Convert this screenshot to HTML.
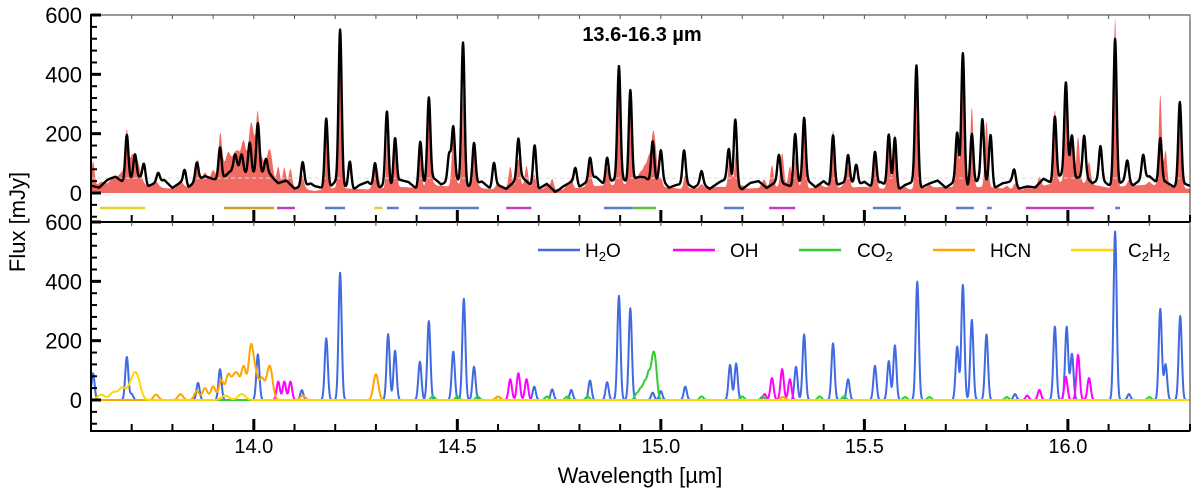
<!DOCTYPE html>
<html><head><meta charset="utf-8">
<style>
html,body{margin:0;padding:0;background:#fff;}
svg{display:block;font-family:"Liberation Sans","DejaVu Sans",sans-serif;}
</style></head>
<body>
<svg id="chart" width="1200" height="502" viewBox="0 0 1200 502" xmlns="http://www.w3.org/2000/svg">
<rect x="0" y="0" width="1200" height="502" fill="#fff"/>
<g id="topPanel"></g>
<g id="strip"></g>
<g id="botPanel"></g>
<g id="axes"></g>
<text x="642" y="41" text-anchor="middle" font-size="20" font-weight="bold">13.6-16.3 µm</text>
<text x="0" y="0" transform="translate(25,222) rotate(-90)" text-anchor="middle" font-size="22">Flux [mJy]</text>
<text x="640" y="483" text-anchor="middle" font-size="22">Wavelength [µm]</text>
<g id="legend"></g>
</svg>
<script>
// ---- data ----
const baselineStart = 13.6;
const baselineStep = 0.05;
const obsBaseline = [20,35,45,30,20,35,45,60,70,40,25,10,25,20,15,30,25,35,30,25,15,35,20,15,25,35,40,45,30,20,25,30,20,25,30,20,30,25,30,20,15,25,30,25,30,20,15,40,60,45,25,35,40,30,20];
const rippleStep = 0.02;
const obsRipple = [5,-8,12,18,-5,3,15,-10,8,20,-3,10,-12,6,16,2,-8,14,22,0,-6,9,17,-4,11,-10,5,19,7,-9,13,3,-14,8,21,-2,6,-7,15,10,-11,4,18,-5,9,14,-8,2,16,-3,12,-9,7,20,1,-6,13,-12,5,17,-4,10,22,-7,3,15,-10,8,11,-2,19,-8,6,14,-5,9,-13,4,18,0,-7,12,16,-9,7,2,-4,13,21,-6,10,-11,5,17,-3,8,-8,15,3,-10,12,19,-5,6,14,-12,9,1,-7,16,4,-9,11,20,-2,7,-6,13,-11,5,18,-4,10,-8,15,2,-5,12,-10,8,17,-3,6,-7,11,4,-9,14,0,6,-4];
const obsLines = [[13.688,155],[13.708,80],[13.73,60],[13.765,30],[13.83,50],[13.86,60],[13.917,110],[13.954,50],[13.97,55],[13.99,105],[14.01,170],[14.03,50],[14.12,80],[14.178,240],[14.212,520],[14.236,95],[14.298,85],[14.327,250],[14.347,155],[14.409,150],[14.43,280],[14.48,90],[14.49,180],[14.514,480],[14.541,140],[14.59,80],[14.65,135],[14.69,140],[14.79,55],[14.826,75],[14.868,85],[14.897,375],[14.925,310],[14.98,140],[15.0,95],[15.057,110],[15.1,40],[15.167,110],[15.183,225],[15.29,95],[15.33,170],[15.352,215],[15.423,175],[15.46,85],[15.48,70],[15.526,115],[15.56,175],[15.575,175],[15.628,400],[15.728,170],[15.742,445],[15.764,175],[15.79,210],[15.81,170],[15.868,50],[15.968,215],[15.995,300],[16.01,130],[16.04,135],[16.08,110],[16.116,495],[16.146,70],[16.185,80],[16.227,150],[16.275,275]];
const h2oLines = [[13.605,90],[13.688,145],[13.70,20],[13.863,58],[13.917,104],[14.01,154],[14.118,33],[14.178,208],[14.212,429],[14.33,222],[14.347,166],[14.408,129],[14.43,266],[14.49,163],[14.516,341],[14.541,112],[14.689,45],[14.733,36],[14.78,34],[14.826,66],[14.868,60],[14.897,351],[14.925,309],[14.98,25],[15.0,30],[15.06,45],[15.17,118],[15.185,123],[15.332,112],[15.352,221],[15.423,191],[15.46,70],[15.526,115],[15.56,131],[15.575,184],[15.63,399],[15.728,180],[15.742,388],[15.764,270],[15.8,221],[15.87,20],[15.968,247],[15.997,247],[16.01,155],[16.116,568],[16.15,20],[16.227,307],[16.24,120],[16.276,283]];
const ohLines = [[14.06,62],[14.075,62],[14.09,62],[14.63,70],[14.65,90],[14.67,70],[15.255,20],[15.273,74],[15.298,104],[15.317,70],[15.9,15],[15.93,34],[15.995,78],[16.025,152],[16.052,74]];
const co2Lines = [[14.94,20],[14.95,35],[14.96,55],[14.97,85],[14.98,118],[14.987,100],[14.44,12],[14.5,12],[14.55,12],[14.6,12],[14.72,12],[14.77,12],[14.82,12],[15.1,12],[15.2,12],[15.25,12],[15.39,12],[15.45,12],[15.6,10],[15.66,10],[15.85,10],[16.2,10]];
const hcnLines = [[13.76,18],[13.82,20],[13.86,30],[13.88,40],[13.90,45],[13.92,65],[13.937,81],[13.95,60],[13.96,70],[13.975,110],[13.993,176],[14.005,80],[14.02,70],[14.035,65],[14.042,71],[14.12,15],[14.3,87],[14.6,12],[15.3,10]];
const c2h2Lines = [[13.625,18],[13.655,25],[13.677,40],[13.70,50],[13.713,70],[13.93,15],[13.97,20]];
const markerRanges = [[13.622,13.733,"C2H2"],[13.927,14.05,"HCN"],[14.057,14.101,"OH"],[14.175,14.224,"H2O"],[14.296,14.316,"C2H2"],[14.327,14.356,"H2O"],[14.406,14.553,"H2O"],[14.62,14.682,"OH"],[14.86,14.932,"H2O"],[14.932,14.988,"CO2"],[15.155,15.204,"H2O"],[15.266,15.33,"OH"],[15.521,15.59,"H2O"],[15.725,15.769,"H2O"],[15.801,15.813,"H2O"],[15.897,16.064,"OH"],[16.116,16.128,"H2O"]];
const xTicksMajor = [14.0,14.5,15.0,15.5,16.0];
const xTickLabels = ["14.0","14.5","15.0","15.5","16.0"];
const yTicks = [0,200,400,600];
const yTickLabels = ["0","200","400","600"];

// ---- scales ----
const W0=13.6, W1=16.3, X0=91, X1=1190;
const xs = w => X0 + (w-W0)/(W1-W0)*(X1-X0);
const yTop = v => 193 - v*(178/600);
const yBot = v => 400 - v*(178/600);
const NS="http://www.w3.org/2000/svg";
function mk(tag, attrs, parent){const e=document.createElementNS(NS,tag);for(const k in attrs)e.setAttribute(k,attrs[k]);parent.appendChild(e);return e;}

const colors={H2O:"#4169e1",OH:"#ff00ff",CO2:"#32cd32",HCN:"#ffa500",C2H2:"#ffd700"};
const stripColors={H2O:"#5a7fc4",OH:"#c43cc4",CO2:"#5ec040",HCN:"#c8a030",C2H2:"#e8d030"};
const sig={H2O:0.0038,OH:0.004,CO2:0.0045,HCN:0.006,C2H2:0.009,OBS:0.0038};

function gsum(lines,s,w){let t=0;for(const [c,a] of lines){const d=(w-c)/s;if(d*d<30)t+=a*Math.exp(-0.5*d*d);}return t;}
function interp(arr,start,stp,w){const f=(w-start)/stp;const i=Math.max(0,Math.min(arr.length-2,Math.floor(f)));const r=Math.min(1,Math.max(0,f-i));return arr[i]*(1-r)+arr[i+1]*r;}
const baseAt = w => interp(obsBaseline,baselineStart,baselineStep,w);
const rippleAt = w => interp(obsRipple,baselineStart,rippleStep,w);

const step=0.001, N=Math.round((W1-W0)/step);
const ws=[];for(let i=0;i<=N;i++)ws.push(W0+i*step);

// ---- top panel ----
const topG=document.getElementById('topPanel');
const spec={H2O:h2oLines,OH:ohLines,CO2:co2Lines,HCN:hcnLines,C2H2:c2h2Lines};
const model=ws.map(w=>{let t=baseAt(w)*0.7;for(const k in spec)t+=gsum(spec[k],sig[k],w);return t;});
let dF="M"+xs(W0)+","+yTop(0);
ws.forEach((w,i)=>{dF+=" L"+xs(w).toFixed(2)+","+yTop(Math.min(model[i],610)).toFixed(2);});
dF+=" L"+xs(W1)+","+yTop(0)+" Z";
const fill=mk('path',{d:dF,fill:"#f26a62",stroke:"none"},topG);


const dash=mk('line',{x1:X0,x2:X1,y1:yTop(50),y2:yTop(50),stroke:"#ddd",'stroke-width':1,'stroke-dasharray':"4,3"},topG);


let dO="";
ws.forEach((w,i)=>{const v=baseAt(w)+rippleAt(w)+gsum(obsLines,sig.OBS,w);dO+=(i?" L":"M")+xs(w).toFixed(2)+","+yTop(Math.min(v,610)).toFixed(2);});
const obs=mk('path',{d:dO,fill:"none",stroke:"#000",'stroke-width':2.4,'stroke-linejoin':"round"},topG);



// ---- marker strip ----
const stripG=document.getElementById('strip');
markerRanges.forEach(r=>{
  const l=mk('line',{x1:xs(r[0]),x2:xs(r[1]),y1:208,y2:208,stroke:stripColors[r[2]],'stroke-width':2.5},stripG);
  
  
});

// ---- bottom panel ----
const botG=document.getElementById('botPanel');
["H2O","OH","CO2","HCN","C2H2"].forEach(k=>{
  let d="";
  ws.forEach((w,i)=>{d+=(i?" L":"M")+xs(w).toFixed(2)+","+yBot(gsum(spec[k],sig[k],w)).toFixed(2);});
  const p=mk('path',{d:d,fill:"none",stroke:colors[k],'stroke-width':2,'stroke-linejoin':"round"},botG);
  
  
});

// ---- axes ----
const axG=document.getElementById('axes');
mk('rect',{x:X0,y:15,width:X1-X0,height:207,fill:"none",stroke:"#333",'stroke-width':1},axG);
mk('rect',{x:X0,y:222,width:X1-X0,height:209,fill:"none",stroke:"#333",'stroke-width':1},axG);
mk('line',{x1:X0,x2:X0,y1:14,y2:432,stroke:"#000",'stroke-width':2},axG);
mk('line',{x1:X0,x2:X1,y1:222,y2:222,stroke:"#000",'stroke-width':2},axG);
mk('line',{x1:X0,x2:X1,y1:431,y2:431,stroke:"#000",'stroke-width':2},axG);
for(let t=13.7;t<16.3;t+=0.1){
  const x=xs(t);const maj=Math.abs(t*2-Math.round(t*2))<1e-6;
  const L=maj?12:7;const sw=maj?3:2;
  mk('line',{x1:x,x2:x,y1:222,y2:222-L,stroke:"#000",'stroke-width':sw},axG);
  mk('line',{x1:x,x2:x,y1:431,y2:431-L,stroke:"#000",'stroke-width':sw},axG);
  mk('line',{x1:x,x2:x,y1:15,y2:19,stroke:"#555",'stroke-width':1},axG);
  mk('line',{x1:x,x2:x,y1:222,y2:226,stroke:"#555",'stroke-width':1},axG);
}
xTicksMajor.forEach((t,i)=>{
  const tx=mk('text',{x:xs(t),y:453,'text-anchor':"middle",'font-size':20},axG);
  tx.textContent=xTickLabels[i];
  
  
});
for(let v=-80;v<=600;v+=40){
  const maj=v%200===0;const L=maj?10:6;const sw=maj?3:2;
  const y=yTop(v);if(y<=222)mk('line',{x1:X0,x2:X0+L,y1:y,y2:y,stroke:"#000",'stroke-width':sw},axG);
  const y2=yBot(v);if(y2<=431)mk('line',{x1:X0,x2:X0+L,y1:y2,y2:y2,stroke:"#000",'stroke-width':sw},axG);
}
yTicks.forEach((v,i)=>{
  [yTop,yBot].forEach((f,j)=>{
    const tx=mk('text',{x:82,y:f(v)+8,'text-anchor':"end",'font-size':22},axG);
    tx.textContent=yTickLabels[i];
    
    
  });
});

// ---- legend ----
const lgG=document.getElementById('legend');
const legItems=[["H2O",538,585,"H","2","O"],["OH",673,730,"OH","",""],["CO2",799,857,"CO","2",""],["HCN",933,990,"HCN","",""],["C2H2",1071,1128,"C","2","H2"]];
legItems.forEach(it=>{
  const g=mk('g',{},lgG);
  
  
  mk('line',{x1:it[1],x2:it[1]+42,y1:250,y2:250,stroke:colors[it[0]],'stroke-width':2.5},g);
  const t=mk('text',{x:it[2],y:257,'font-size':19},g);
  if(it[0]==="C2H2"){
    t.innerHTML='C<tspan font-size="13" dy="4">2</tspan><tspan dy="-4">H</tspan><tspan font-size="13" dy="4">2</tspan>';
  } else if(it[4]){
    t.innerHTML=it[3]+'<tspan font-size="13" dy="4">'+it[4]+'</tspan><tspan dy="-4">'+it[5]+'</tspan>';
  } else t.textContent=it[3];
});
</script>
</body></html>
